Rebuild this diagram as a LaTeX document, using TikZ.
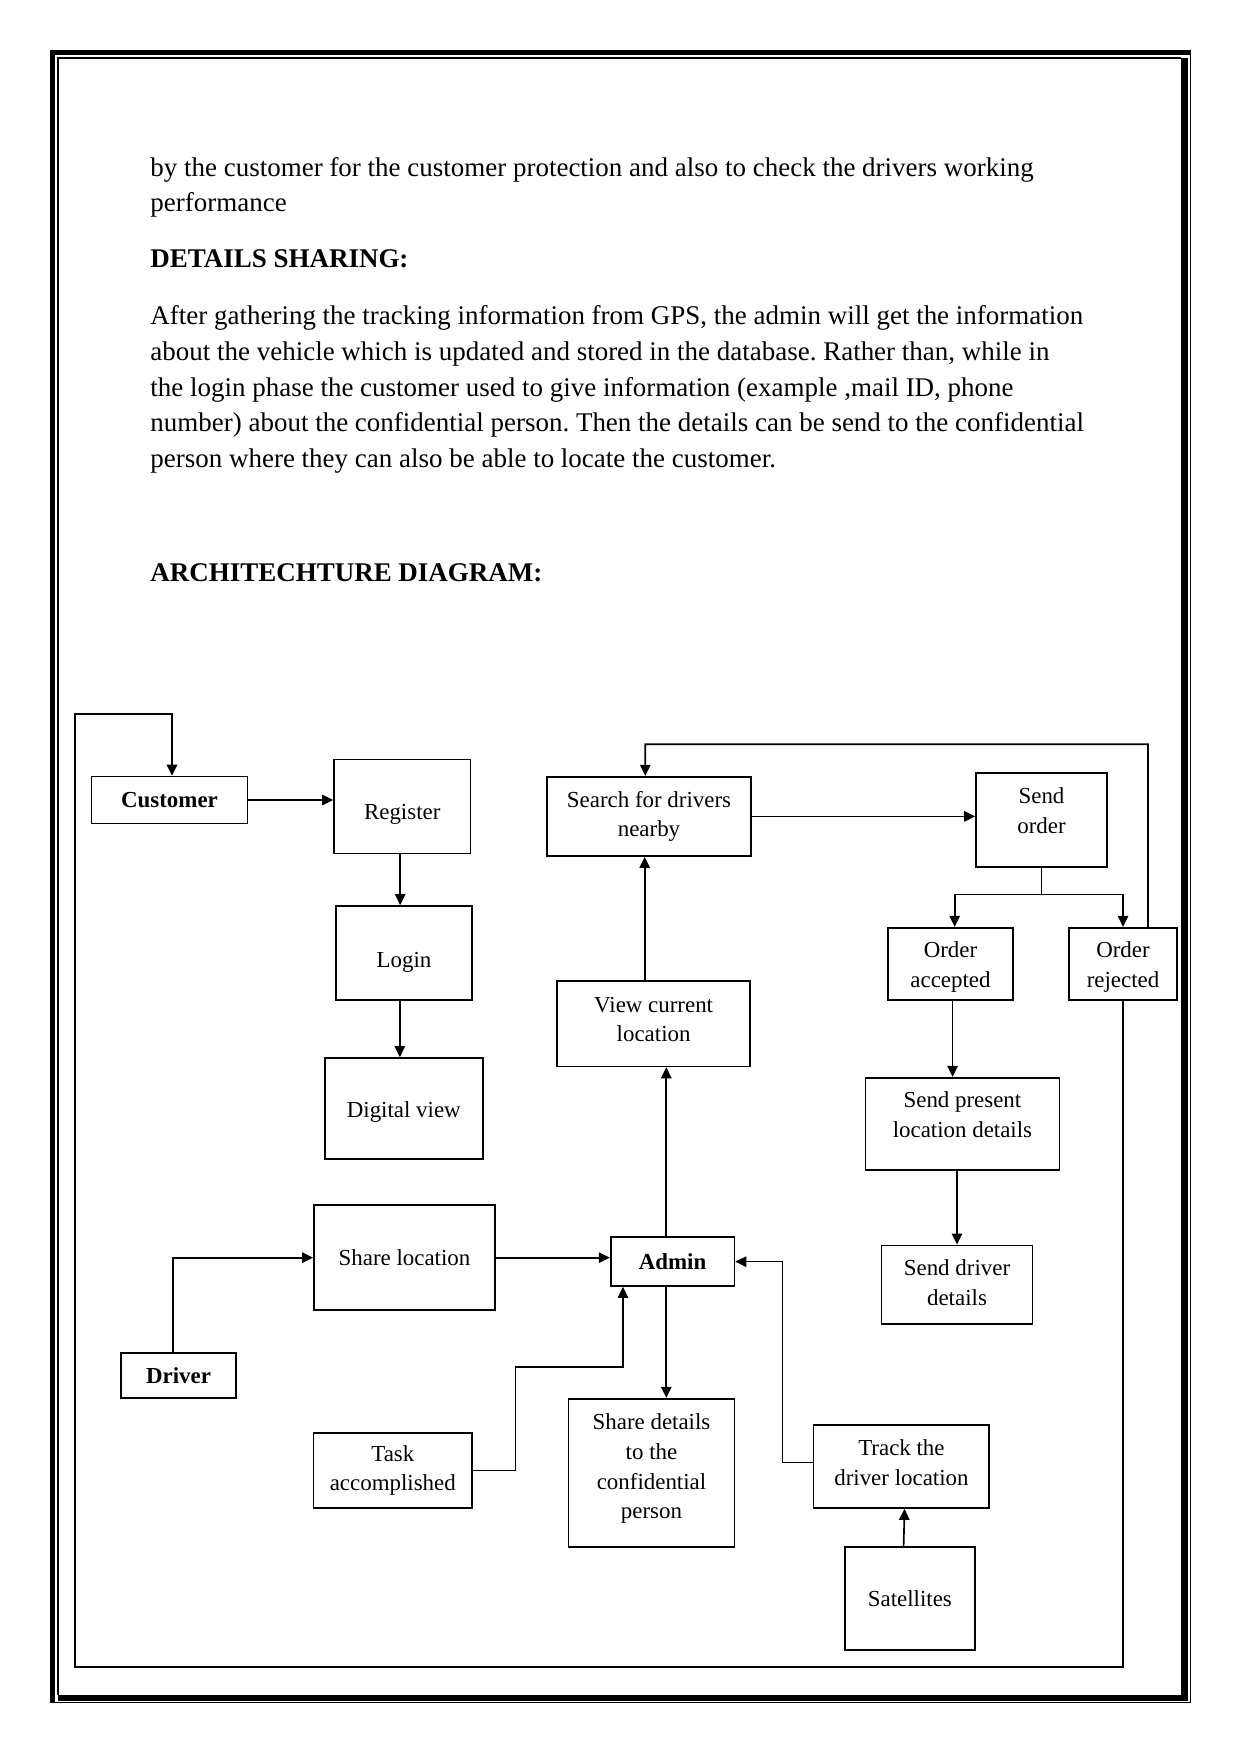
\documentclass[tikz,border=0pt]{standalone}
\usepackage{fontspec}
\setmainfont{Liberation Serif}
\usetikzlibrary{arrows.meta}
\frenchspacing
\newcommand\bxnode[7][0pt]{\node[box, minimum width={(#5-#3)*0.48pt}, minimum height={(#6-#4)*0.48pt}, label={[boxtext, yshift=#1]center:{#7}}] (#2) at ({(#3+#5)/2},{(#4+#6)/2}) {};}
\begin{document}
\begin{tikzpicture}[x=0.48pt,y=-0.48pt,
  box/.style={draw, line width=0.8pt, inner sep=0pt},
  boxtext/.style={inner sep=0pt, align=center, font=\fontsize{11}{14.3}\selectfont},
  conn/.style={line width=0.8pt, -{Triangle[length=5.3pt,width=5pt]}},
  thinconn/.style={line width=0.6pt, -{Triangle[length=5.3pt,width=5pt]}},
  body/.style={anchor=base west, inner sep=0pt, font=\fontsize{12.95}{15}\selectfont},
]
\useasboundingbox (0,0) rectangle (1241,1754);
% page frame
\fill (50,50) rectangle (55,1703);
\fill (50,50) rectangle (1191,55);
\draw[line width=0.6pt] (50,1702.5) -- (1190.5,1702.5) -- (1190.5,50);
\draw[line width=0.5pt] (58,1695) -- (58,58) -- (1181,58);
\fill (1181,58) rectangle (1188,1701);
\fill (58,1695) rectangle (1188,1701);

% body text
\node[body] (t1) at (150,176) {by the customer for the customer protection and also to check the drivers working};
\node[body] (t2) at (150,211.7) {performance};
\node[body] (t3) at (150,267.7) {\textbf{DETAILS SHARING:}};
\node[body] (t4) at (150,324.5) {After gathering the tracking information from GPS, the admin will get the information};
\node[body] (t5) at (150,360.3) {about the vehicle which is updated and stored in the database. Rather than, while in};
\node[body] (t6) at (150,396.1) {the login phase the customer used to give information (example ,mail ID, phone};
\node[body] (t7) at (150,431.9) {number) about the confidential person. Then the details can be send to the confidential};
\node[body] (t8) at (150,467.7) {person where they can also be able to locate the customer.};
\node[body] (t9) at (150,581) {\textbf{ARCHITECHTURE DIAGRAM:}};

% boxes
\bxnode{cust}{91.5}{776.5}{247.5}{823.5}{\textbf{Customer}}
\bxnode[-3.8pt]{reg}{334}{759.5}{470.5}{853.5}{Register}
\bxnode[-4.3pt]{login}{336}{906}{472}{1000}{Login}
\bxnode[-1.6pt]{dig}{324.7}{1058}{482.9}{1159.3}{Digital view}
\bxnode{search}{547}{776.7}{751}{856}{Search for drivers\\nearby}
\bxnode[4.3pt]{send}{976}{773}{1107}{867}{Send\\order}
\bxnode[-1.6pt]{acc}{888}{927.7}{1013}{1000}{Order\\accepted}
\bxnode[-1.6pt]{rej}{1069}{927.7}{1177}{1000}{Order\\rejected}
\bxnode[2.1pt]{view}{557.3}{981.3}{750}{1066.4}{View current\\location}
\bxnode[4.3pt]{pres}{865.5}{1077.7}{1059.4}{1170.3}{Send present\\location details}
\bxnode[1.1pt]{sdrv}{881.5}{1245.4}{1032.5}{1323.8}{Send driver\\details}
\bxnode{share}{314}{1205.3}{495}{1310}{Share location}
\bxnode{admin}{610.7}{1237.3}{734.4}{1286}{\textbf{Admin}}
\bxnode{drv}{121}{1352.7}{236}{1398.3}{\textbf{Driver}}
\bxnode[2.1pt]{sdet}{568.5}{1398.7}{734.5}{1547.3}{Share details\\to the\\confidential\\person}
\bxnode{task}{313.6}{1433}{472}{1508}{Task\\accomplished}
\bxnode[1.6pt]{track}{813.6}{1424.7}{989.3}{1508}{Track the\\driver location}
\bxnode{sat}{844.7}{1546.7}{975}{1650}{Satellites}

% helper coordinates
\coordinate (lpBL) at (75,1666.7);
\coordinate (lpTL) at (75,714.3);
\coordinate (topR) at (1148,744.3);
\coordinate (tk1) at (515.7,1367);

% connectors
\draw[conn] (rej.south) |- (lpBL) -- (lpTL) -| ([xshift=1.2pt]cust.north);
\draw[conn] ([xshift=12pt]rej.north) -- (topR) -| ([xshift=-1.8pt]search.north);
\draw[conn] (cust.east) -- (cust.east -| reg.west);
\draw[conn] ([xshift=-1pt]reg.south) -- ([xshift=-1pt]reg.south |- login.north);
\draw[conn] ([xshift=-2pt]login.south) -- ([xshift=-2pt]login.south |- dig.north);
\draw[conn] (search.east) -- (search.east -| send.west);
\draw[conn] (send.south) -- ++(0,26.7) -| ([xshift=2pt]acc.north);
\draw[conn] (send.south) -- ++(0,26.7) -| (rej.north);
\draw[conn] ([xshift=1pt]acc.south) -- ([xshift=1pt]acc.south |- pres.north);
\draw[conn] (pres.south -| sdrv.north) -- (sdrv.north);
\draw[conn] ([xshift=-4.3pt]view.north) -- ([xshift=-4.3pt]view.north |- search.south);
\draw[conn] ([xshift=-3pt]admin.north) -- ([xshift=-3pt]admin.north |- view.south);
\draw[conn] ([xshift=-3pt]admin.south) -- ([xshift=-3pt]admin.south |- sdet.north);
\draw[conn] (share.east) -- (share.east -| admin.west);
\draw[conn] ([xshift=-2.7pt]drv.north) |- (share.west);
\draw[thinconn] (task.east) -| (tk1) -| ([xshift=-23.8pt]admin.south);
\draw[thinconn] ([yshift=2pt]track.west) -- ++(-30.6,0) |- (admin.east);
\draw[conn] ([xshift=-3pt]sat.north) -- ([xshift=1.5pt]track.south);
\end{tikzpicture}
\end{document}
